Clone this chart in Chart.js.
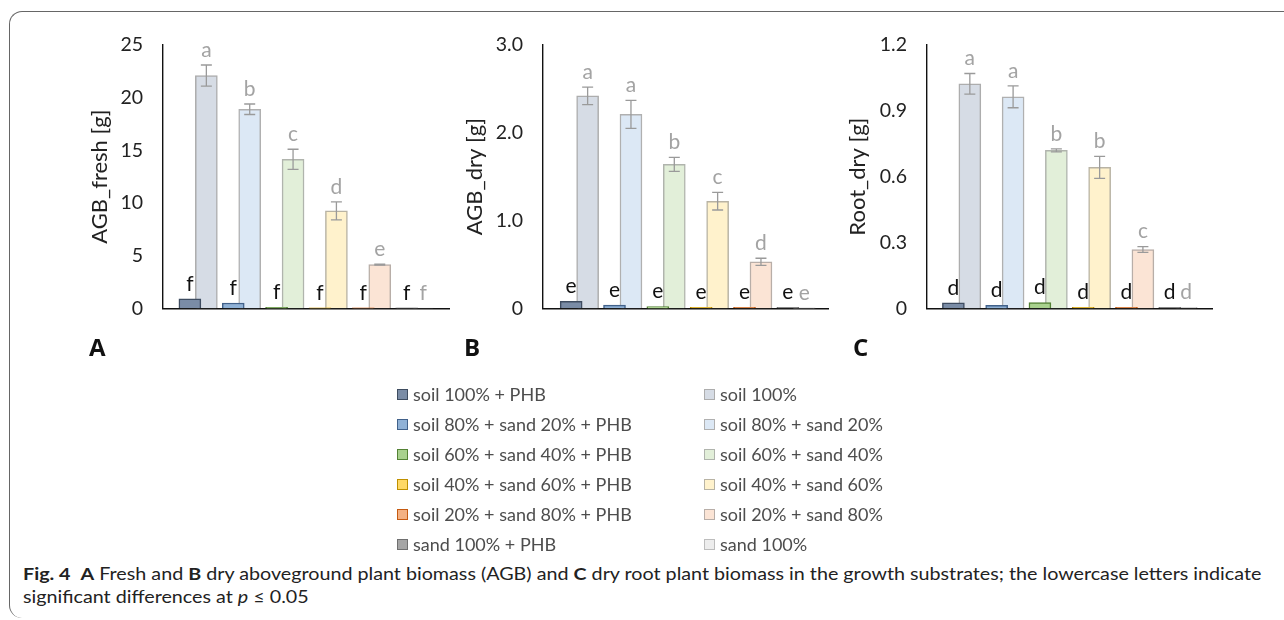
<!DOCTYPE html>
<html><head><meta charset="utf-8">
<script src="https://cdn.jsdelivr.net/npm/chart.js@4.4.0/dist/chart.umd.min.js"></script>
<style>
html,body{margin:0;padding:0;background:#fff;}
body{width:1284px;height:620px;position:relative;overflow:hidden;font-family:Lato,"Open Sans",sans-serif;}
.frame{position:absolute;left:9px;top:11px;width:1300px;height:607px;border-left:1.5px solid #666;border-top:1.5px solid #666;border-radius:13px 0 0 13px;box-sizing:border-box;}
.panel{position:absolute;top:0;}
.plabel{position:absolute;top:330px;font:bold 24px "Open Sans",sans-serif;color:#111;}
.leg{position:absolute;font-size:18px;color:#4d4d4d;line-height:20px;white-space:nowrap;}
.leg i{position:absolute;left:-16px;top:5px;width:11px;height:11px;box-sizing:border-box;border:1px solid;}
.cap{position:absolute;left:23px;font-family:Lato,sans-serif;font-size:17px;color:#222;white-space:nowrap;transform-origin:0 0;}
.cap b{font-weight:bold;}
</style></head>
<body>
<div class="frame"></div>
<div class="panel" style="left:60px"><canvas id="cA" width="390" height="340"></canvas></div>
<div class="panel" style="left:440px"><canvas id="cB" width="389" height="340"></canvas></div>
<div class="panel" style="left:824px"><canvas id="cC" width="389" height="340"></canvas></div>
<div class="plabel" style="left:89px">A</div>
<div class="plabel" style="left:464px">B</div>
<div class="plabel" style="left:853px">C</div>
<div id="legend"></div>
<div class="cap" id="cap1" style="top:563px"><b>Fig. 4</b>&nbsp; <b>A</b> Fresh and <b>B</b> dry aboveground plant biomass (AGB) and <b>C</b> dry root plant biomass in the growth substrates; the lowercase letters indicate</div>
<div class="cap" id="cap2" style="top:586px">significant differences at <i>p</i> ≤ 0.05</div>
<script>
// ---------- data ----------
const categories = ['soil 100%','soil 80% + sand 20%','soil 60% + sand 40%','soil 40% + sand 60%','soil 20% + sand 80%','sand 100%'];
const legendPHB = ['soil 100% + PHB','soil 80% + sand 20% + PHB','soil 60% + sand 40% + PHB','soil 40% + sand 60% + PHB','soil 20% + sand 80% + PHB','sand 100% + PHB'];
const legendCtl = ['soil 100%','soil 80% + sand 20%','soil 60% + sand 40%','soil 40% + sand 60%','soil 20% + sand 80%','sand 100%'];

const freshPHB = [0.9, 0.5, 0.1, 0.05, 0.05, 0.05];
const freshCtl = [22.1, 18.9, 14.15, 9.25, 4.15, 0.03];
const freshCtlErr = [1.0, 0.5, 0.95, 0.85, 0.05, 0];
const freshLettersPHB = ['f','f','f','f','f','f'];
const freshLettersCtl = ['a','b','c','d','e','f'];
const freshTicks = [0, 5, 10, 15, 20, 25];
const freshTickLabels = ['0','5','10','15','20','25'];

const dryPHB = [0.08, 0.036, 0.02, 0.01, 0.01, 0.01];
const dryCtl = [2.42, 2.21, 1.64, 1.22, 0.53, 0.005];
const dryCtlErr = [0.1, 0.16, 0.08, 0.1, 0.04, 0];
const dryLettersPHB = ['e','e','e','e','e','e'];
const dryLettersCtl = ['a','a','b','c','d','e'];
const dryTicks = [0, 1, 2, 3];
const dryTickLabels = ['0','1.0','2.0','3.0'];

const rootPHB = [0.025, 0.013, 0.026, 0.004, 0.004, 0.004];
const rootCtl = [1.023, 0.964, 0.72, 0.642, 0.268, 0.004];
const rootCtlErr = [0.047, 0.05, 0.007, 0.05, 0.013, 0];
const rootLettersPHB = ['d','d','d','d','d','d'];
const rootLettersCtl = ['a','a','b','b','c','d'];
const rootTicks = [0, 0.3, 0.6, 0.9, 1.2];
const rootTickLabels = ['0','0.3','0.6','0.9','1.2'];

// ---------- styles ----------
const phbFill   = ['#7a8ca6','#8fb1d6','#a9d18e','#ffd966','#f4b183','#a5a5a5'];
const phbBorder = ['#3e4c60','#41618a','#548235','#bf9000','#c55a11','#6f6f6f'];
const ctlFill   = ['#d6dce5','#dce8f5','#e2efd9','#fff2cc','#fbe4d5','#ededed'];
const ctlBorder = ['#adadad','#b0b0b0','#b0b4ad','#b8b3a4','#b8aea8','#bdbdbd'];
const FONT = 'Lato, "Open Sans", sans-serif';

// ---------- legend ----------
const legendEl = document.getElementById('legend');
legendPHB.forEach((t,i)=>{
  const d=document.createElement('div'); d.className='leg';
  d.style.left='413px'; d.style.top=(384+30*i)+'px';
  d.innerHTML='<i style="background:'+phbFill[i]+';border-color:'+phbBorder[i]+'"></i>'+t;
  legendEl.appendChild(d);
});
legendCtl.forEach((t,i)=>{
  const d=document.createElement('div'); d.className='leg';
  d.style.left='720px'; d.style.top=(384+30*i)+'px';
  d.innerHTML='<i style="background:'+ctlFill[i]+';border-color:'+ctlBorder[i]+'"></i>'+t;
  legendEl.appendChild(d);
});

// ---------- plugin: error bars + letters ----------
const annotPlugin = {
  id:'annot',
  afterDatasetsDraw(chart){
    const ctx=chart.ctx, ys=chart.scales.y;
    ctx.save();
    chart.data.datasets.forEach((ds,di)=>{
      const meta=chart.getDatasetMeta(di);
      meta.data.forEach((el,i)=>{
        const v=ds.data[i].y, e=ds.errors?ds.errors[i]:0;
        if(e>0){
          const yt=ys.getPixelForValue(v+e), yb=ys.getPixelForValue(v-e);
          ctx.strokeStyle='#9a9a9a'; ctx.lineWidth=1.3;
          ctx.beginPath();
          ctx.moveTo(el.x,yt); ctx.lineTo(el.x,yb);
          ctx.moveTo(el.x-5.5,yt); ctx.lineTo(el.x+5.5,yt);
          ctx.moveTo(el.x-5.5,yb); ctx.lineTo(el.x+5.5,yb);
          ctx.stroke();
        }
        const top=ys.getPixelForValue(v+e);
        ctx.fillStyle=ds.letterColor; ctx.font='21px '+FONT;
        ctx.textAlign='center'; ctx.textBaseline='middle';
        ctx.fillText(ds.letters[i], el.x, top-15);
      });
    });
    ctx.restore();
  }
};

const barOffset = 0.19;
function makeChart(id, phb, ctl, err, lPHB, lCtl, ticks, tickLabels, yMax, title, titlePad, xMin, xMax){
  new Chart(document.getElementById(id), {
    type:'bar',
    data:{
      datasets:[
        {data:phb.map((v,i)=>({x:i-barOffset,y:v})), backgroundColor:phbFill, borderColor:phbBorder, borderWidth:1.5,
         letters:lPHB, letterColor:'#111'},
        {data:ctl.map((v,i)=>({x:i+barOffset,y:v})), backgroundColor:ctlFill, borderColor:ctlBorder, borderWidth:1.5,
         errors:err, letters:lCtl, letterColor:'#a3a3a3'}
      ]
    },
    options:{
      responsive:false, animation:false,
      layout:{padding:{top:45,left:0,right:0,bottom:0}},
      plugins:{legend:{display:false}, tooltip:{enabled:false}},
      datasets:{bar:{grouped:false, barThickness:22}},
      scales:{
        x:{type:'linear', min:xMin, max:xMax, offset:false,
           grid:{display:false, drawTicks:false}, ticks:{display:false},
           border:{display:true, color:'#111', width:1.4},
           afterFit:s=>{s.height=20;}},
        y:{min:0, max:yMax,
           grid:{display:false, drawTicks:false},
           border:{display:true, color:'#111', width:1.4},
           afterBuildTicks:s=>{s.ticks=ticks.map(v=>({value:v}));},
           ticks:{padding:20, color:'#222', font:{family:FONT,size:19.5},
                  callback:(v,i)=>tickLabels[i]},
           title:{display:true, text:title, color:'#222', font:{family:FONT,size:22}, padding:{top:titlePad,bottom:0}},
           afterFit:s=>{s.width=103;}}
      }
    },
    plugins:[annotPlugin]
  });
}
makeChart('cA', freshPHB, freshCtl, freshCtlErr, freshLettersPHB, freshLettersCtl, freshTicks, freshTickLabels, 25, 'AGB_fresh [g]', 27, -0.81, 5.81);
makeChart('cB', dryPHB, dryCtl, dryCtlErr, dryLettersPHB, dryLettersCtl, dryTicks, dryTickLabels, 3, 'AGB_dry [g]', 22, -0.84, 5.76);
makeChart('cC', rootPHB, rootCtl, rootCtlErr, rootLettersPHB, rootLettersCtl, rootTicks, rootTickLabels, 1.2, 'Root_dry [g]', 21, -0.80, 5.81);

// fit caption line width to the reference
const c1=document.getElementById('cap1'), c2=document.getElementById('cap2');
const sx = 1238 / c1.offsetWidth;
c1.style.transform='scaleX('+sx+')'; c2.style.transform='scaleX('+sx+')';
</script>
</body></html>
